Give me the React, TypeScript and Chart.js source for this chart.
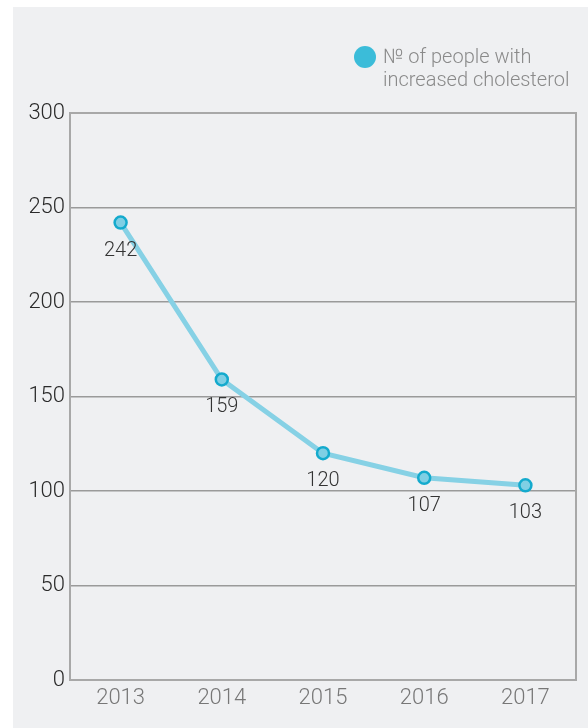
import React, { useEffect, useRef } from "react";
import { Chart, registerables } from "chart.js";

Chart.register(...registerables);

const years = ["2013", "2014", "2015", "2016", "2017"];
const people = [242, 159, 120, 107, 103];
const legendLines = ["№ of people with", "increased cholesterol"];

const FONT = "Roboto";

const decorPlugin = {
  id: "decor",
  beforeDatasetsDraw(chart: any) {
    const { ctx, chartArea } = chart;
    ctx.save();
    ctx.strokeStyle = "#a8a8a8";
    ctx.lineWidth = 2;
    ctx.strokeRect(chartArea.left, chartArea.top, chartArea.right - chartArea.left, chartArea.bottom - chartArea.top);
    ctx.restore();
  },
  afterDraw(chart: any) {
    const { ctx } = chart;
    ctx.save();
    // data labels
    const meta = chart.getDatasetMeta(0);
    ctx.font = `300 20px ${FONT}`;
    ctx.fillStyle = "#333333";
    ctx.textAlign = "center";
    ctx.textBaseline = "middle";
    meta.data.forEach((pt: any, i: number) => {
      ctx.fillText(String(people[i]), pt.x, pt.y + 28);
    });
    // legend
    ctx.fillStyle = "#3bbcd9";
    ctx.beginPath();
    ctx.arc(352, 50, 11, 0, Math.PI * 2);
    ctx.fill();
    ctx.font = `300 20px ${FONT}`;
    ctx.fillStyle = "#8a8a8a";
    ctx.textAlign = "left";
    ctx.fillText(legendLines[0], 370, 51);
    ctx.fillText(legendLines[1], 370, 74);
    ctx.restore();
  },
};

export default function App() {
  const ref = useRef<HTMLCanvasElement>(null);
  useEffect(() => {
    const chart = new Chart(ref.current!, {
      type: "line",
      data: {
        labels: years,
        datasets: [
          {
            data: people,
            borderColor: "#86d1e5",
            borderWidth: 5,
            pointRadius: 6,
            pointBorderWidth: 2.5,
            pointBackgroundColor: "#7fcfe4",
            pointBorderColor: "#14aacd",
            tension: 0,
          },
        ],
      },
      options: {
        animation: false,
        responsive: false,
        layout: { padding: { top: 106, right: 12, left: 0, bottom: 0 } },
        plugins: { legend: { display: false }, tooltip: { enabled: false } },
        scales: {
          x: {
            offset: true,
            grid: { display: false },
            border: { display: false },
            ticks: { color: "#777777", font: { family: FONT, size: 22, weight: "300" }, padding: -3 },
            afterFit(scale: any) {
              scale.height = 48;
            },
          },
          y: {
            min: 0,
            max: 300,
            ticks: { stepSize: 50, color: "#2a2a2a", font: { family: FONT, size: 22, weight: "300" }, padding: 5 },
            grid: { color: "#9a9a9a", lineWidth: 1.5, drawTicks: false },
            border: { display: false },
            afterFit(scale: any) {
              scale.width = 57;
            },
          },
        },
      },
      plugins: [decorPlugin],
    });
    return () => chart.destroy();
  }, []);
  return (
    <div
      style={{
        position: "absolute",
        left: 13,
        top: 7,
        width: 575,
        height: 721,
        background: "#eff0f2",
      }}
    >
      <canvas ref={ref} width={575} height={721} style={{ display: "block" }} />
    </div>
  );
}
